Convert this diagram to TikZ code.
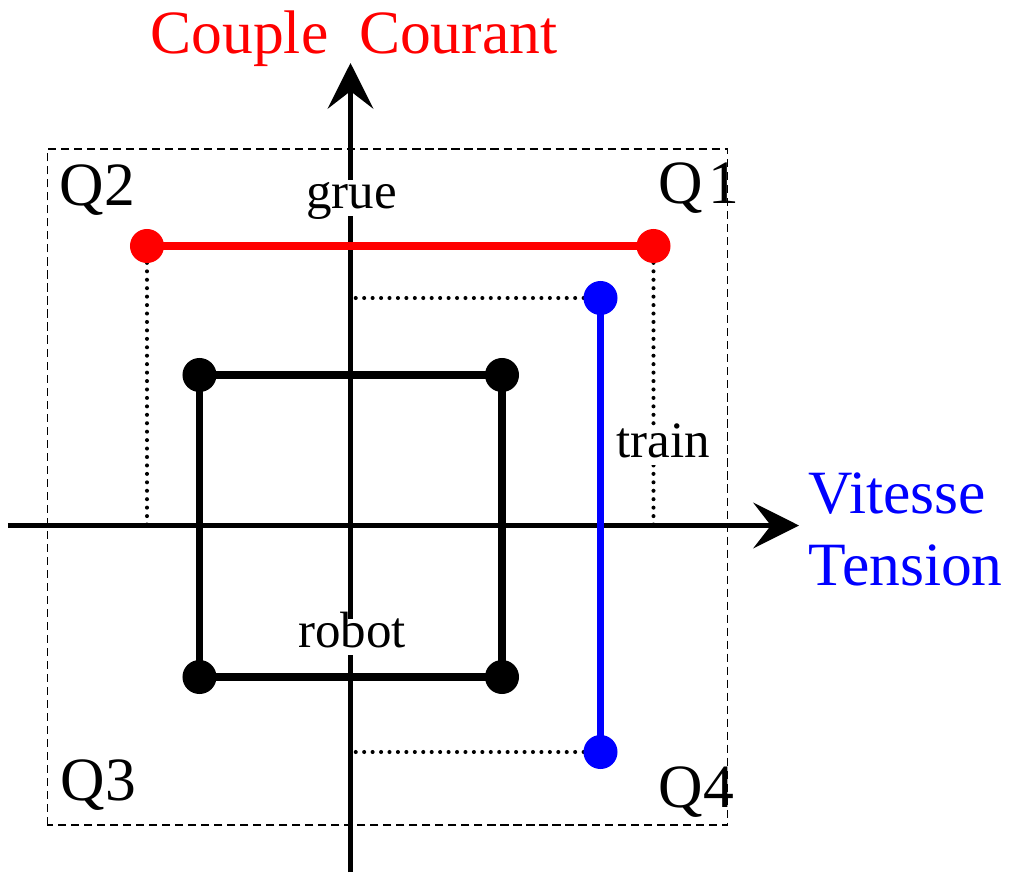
\documentclass[tikz,border=0pt]{standalone}
\usepackage{fontspec}
\setmainfont{Liberation Serif}
\usetikzlibrary{arrows.meta,calc,backgrounds}

\begin{document}
\begin{tikzpicture}[x=0.01cm, y=0.01cm,
    axe/.style={line width=1.35pt, -{Stealth[length=13pt, width=13pt, inset=5pt]}},
    gros/.style={line width=2.1pt},
    pastille/.style={circle, fill, inner sep=0pt, minimum size=0.34cm},
    pointille/.style={line width=1.15pt, line cap=round, dash pattern=on 0pt off 2.4pt},
    cadre/.style={line width=0.35pt, dash pattern=on 2.3pt off 1.4pt},
    titre/.style={font=\fontsize{17.5}{21}\selectfont, inner sep=0pt, anchor=base west},
    etiq/.style={font=\fontsize{14.5}{17}\selectfont, fill=white, inner sep=0pt,
        text height=0.8em, text depth=0.22em, anchor=base}]
    \useasboundingbox (-350.5,-346.5) rectangle (661.5,525.5);
    \coordinate (O) at (0,0);
    \coordinate (xa) at (-342.5,0);
    \coordinate (xb) at (448.5,0);
    \coordinate (ya) at (0,-346.5);
    \coordinate (yb) at (0,462.5);
    \node[pastille, red] (r1) at (-203.5,279.5) {};
    \node[pastille, red] (r2) at (303,279.5) {};
    \node[pastille, blue] (b1) at (250,227.5) {};
    \node[pastille, blue] (b2) at (250,-226.5) {};
    \node[pastille] (k1) at (-151,150.5) {};
    \node[pastille] (k2) at (151.5,150.5) {};
    \node[pastille] (k3) at (151.5,-151.5) {};
    \node[pastille] (k4) at (-151,-151.5) {};
    \begin{scope}[on background layer]
        \draw[cadre] (-303,-299.5) rectangle (377,376.5);
        \draw[pointille] (r1.center) -- (r1 |- O);
        \draw[pointille] (r2.center) -- (r2 |- O);
        \draw[pointille] (b1.center) -- (b1 -| O);
        \draw[pointille] (b2.center) -- (b2 -| O);
        \draw[axe] (xa) -- (xb);
        \draw[axe] (ya) -- (yb);
        \draw[gros] (k1.center) -- (k2.center) -- (k3.center) -- (k4.center) -- cycle;
        \draw[gros, red] (r1.center) -- (r2.center);
        \draw[gros, blue] (b1.center) -- (b2.center);
    \end{scope}
    \node[titre, red, anchor=base] (couple) at (3.5,472.5) {Couple\ \ Courant};
    \node[titre, blue] (vit) at (457.5,12.5) {Vitesse};
    \node[titre, blue] (ten) at (457.5,-59.5) {Tension};
    \node[titre] (q1) at (307.5,322.5) {Q\kern0.08em{}1};
    \node[titre] (q2) at (-291.5,320.5) {Q2};
    \node[titre] (q3) at (-290.5,-274.5) {Q3};
    \node[titre] (q4) at (307.5,-281.5) {Q4};
    \node[etiq] (grue) at (1,317.5) {grue};
    \node[etiq] (robot) at (1.5,-121.5) {robot};
    \node[etiq] (train) at (313,68.5) {train};
\end{tikzpicture}
\end{document}
